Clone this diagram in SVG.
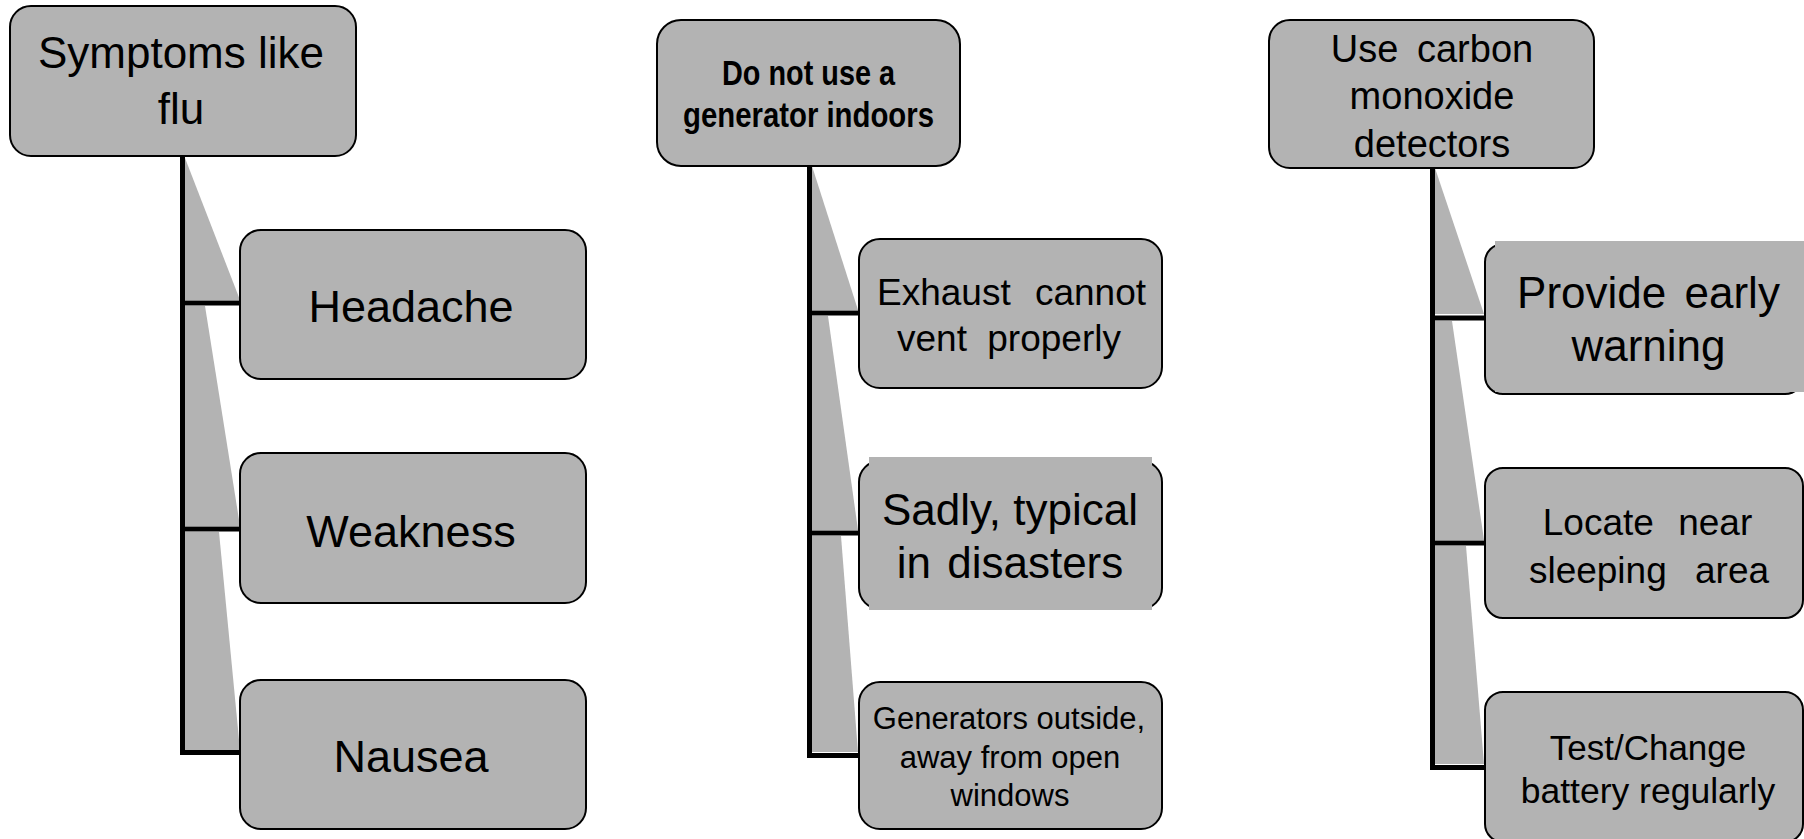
<svg xmlns="http://www.w3.org/2000/svg" width="1804" height="839" viewBox="0 0 1804 839">
<style>
.box{fill:#b3b3b3;stroke:#000;stroke-width:2}
.pad{fill:#b3b3b3;stroke:none}
.wedge{fill:#b3b3b3;stroke:none}
.ln{fill:none;stroke:#000;stroke-width:5;stroke-linejoin:miter}
text{font-family:"Liberation Sans",Arial,sans-serif;fill:#000;text-anchor:middle}
.b{font-weight:bold}
</style>
<rect width="1804" height="839" fill="#fff"/>
<g id="connectors">
  <polygon class="wedge" points="185,158 240,300 185,300"/>
  <polygon class="wedge" points="185,306 205,306 240,526 185,526"/>
  <polygon class="wedge" points="185,532 219,532 240,750 185,750"/>
  <polygon class="wedge" points="812,166 858,310 812,310"/>
  <polygon class="wedge" points="812,316 828,316 858,530 812,530"/>
  <polygon class="wedge" points="812,536 841,536 858,752 812,752"/>
  <polygon class="wedge" points="1435,168 1484,314 1435,314"/>
  <polygon class="wedge" points="1435,321 1452,321 1484,540 1435,540"/>
  <polygon class="wedge" points="1435,546 1466,546 1484,764 1435,764"/>
  <path class="ln" d="M182.5,156 V752.5 H240 M182.5,303 H240 M182.5,529 H240"/>
  <path class="ln" d="M809.5,166 V755.5 H859 M809.5,313 H859 M809.5,533 H859"/>
  <path class="ln" d="M1432.5,168 V767.5 H1485 M1432.5,318 H1485 M1432.5,543 H1485"/>
</g>
<g id="n-symptoms">
  <rect class="box" x="10" y="6" width="346" height="150" rx="21"/>
  <text x="181" y="68" font-size="44">Symptoms like</text>
  <text x="181" y="124" font-size="44">flu</text>
</g>
<g id="n-headache">
  <rect class="box" x="240" y="230" width="346" height="149" rx="21"/>
  <text x="411" y="322" font-size="45">Headache</text>
</g>
<g id="n-weakness">
  <rect class="box" x="240" y="453" width="346" height="150" rx="21"/>
  <text x="411" y="547" font-size="45">Weakness</text>
</g>
<g id="n-nausea">
  <rect class="box" x="240" y="680" width="346" height="149" rx="21"/>
  <text x="411" y="772" font-size="45">Nausea</text>
</g>
<g id="n-generator">
  <rect class="box" x="657" y="20" width="303" height="146" rx="24"/>
  <text class="b" x="808.5" y="85" font-size="35" textLength="173" lengthAdjust="spacingAndGlyphs">Do not use a</text>
  <text class="b" x="808.5" y="127" font-size="35" textLength="251" lengthAdjust="spacingAndGlyphs">generator indoors</text>
</g>
<g id="n-exhaust">
  <rect class="box" x="859" y="239" width="303" height="149" rx="21"/>
  <text x="1011.5" y="305" font-size="37" word-spacing="14">Exhaust cannot</text>
  <text x="1009" y="351" font-size="37" word-spacing="10">vent properly</text>
</g>
<g id="n-sadly">
  <rect class="box" x="859" y="461" width="303" height="148" rx="21"/>
  <rect class="pad" x="869" y="457" width="283" height="153"/>
  <text x="1010" y="525" font-size="44">Sadly, typical</text>
  <text x="1010" y="578" font-size="44" word-spacing="4">in disasters</text>
</g>
<g id="n-outside">
  <rect class="box" x="859" y="682" width="303" height="147" rx="21"/>
  <text x="1009" y="729" font-size="31">Generators outside,</text>
  <text x="1010" y="768" font-size="31">away from open</text>
  <text x="1010" y="806" font-size="31">windows</text>
</g>
<g id="n-detectors">
  <rect class="box" x="1269" y="20" width="325" height="148" rx="21"/>
  <text x="1432" y="62" font-size="38" word-spacing="8">Use carbon</text>
  <text x="1432" y="109" font-size="38">monoxide</text>
  <text x="1432" y="157" font-size="38">detectors</text>
</g>
<g id="n-warning">
  <rect class="box" x="1485" y="244" width="318" height="150" rx="18"/>
  <rect class="pad" x="1495" y="241" width="309" height="151"/>
  <text x="1648.5" y="308" font-size="44" word-spacing="6">Provide early</text>
  <text x="1648.5" y="361" font-size="44">warning</text>
</g>
<g id="n-sleeping">
  <rect class="box" x="1485" y="468" width="318" height="150" rx="18"/>
  <text x="1647.5" y="535" font-size="37" word-spacing="14">Locate near</text>
  <text x="1649" y="583" font-size="37" word-spacing="18">sleeping area</text>
</g>
<g id="n-battery">
  <rect class="box" x="1485" y="692" width="318" height="150" rx="18"/>
  <text x="1648" y="760" font-size="35">Test/Change</text>
  <text x="1648" y="803" font-size="35.5">battery regularly</text>
</g>
</svg>
